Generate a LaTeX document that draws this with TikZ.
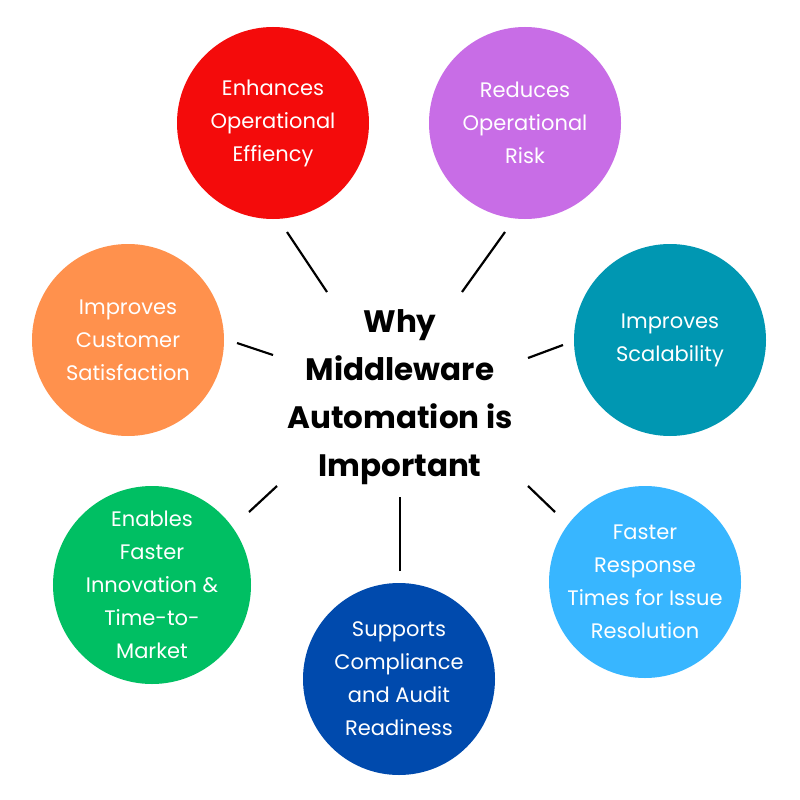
\documentclass[tikz,border=0pt]{standalone}
\usepackage{fontspec}
\setmainfont{Poppins}
\begin{document}
\begin{tikzpicture}[x=1pt,y=-1pt,
  bub/.style={circle,minimum size=192pt,inner sep=0pt,text=white,align=center,font=\fontsize{21}{33}\selectfont},
  con/.style={line width=2.2pt,black}]
\useasboundingbox[fill=white] (0,0) rectangle (800,800);
\definecolor{cRed}{HTML}{F40B0B}
\definecolor{cPur}{HTML}{C86DE6}
\definecolor{cTeal}{HTML}{0097B2}
\definecolor{cLb}{HTML}{38B6FF}
\definecolor{cDb}{HTML}{004AAD}
\definecolor{cGr}{HTML}{00BF63}
\definecolor{cOr}{HTML}{FF914D}
\node[bub,fill=cRed] (a) at (273,123) {Enhances\\Operational\\Effiency};
\node[bub,fill=cPur] (b) at (525,123) {Reduces\\Operational\\Risk};
\node[bub,fill=cTeal] (c) at (670,340) {Improves\\Scalability};
\node[bub,fill=cLb] (d) at (645,582) {Faster\\Response\\Times for Issue\\Resolution};
\node[bub,fill=cDb] (e) at (399,679) {Supports\\Compliance\\and Audit\\Readiness};
\node[bub,fill=cGr] (f) at (152,585) {Enables\\Faster\\Innovation \&\\Time-to-\\Market};
\node[bub,fill=cOr] (g) at (128,340) {Improves\\Customer\\Satisfaction};
\node[align=center,font=\fontsize{31}{48}\selectfont\bfseries] (m) at (400,397) {Why\\Middleware\\Automation is\\Important};
\coordinate (a1) at (287,232); \coordinate (a2) at (327,292);
\coordinate (b1) at (505,232); \coordinate (b2) at (462,292);
\coordinate (g1) at (237,343); \coordinate (g2) at (273,355);
\coordinate (c1) at (563,345); \coordinate (c2) at (528,358);
\coordinate (f1) at (249,512); \coordinate (f2) at (277,486);
\coordinate (e1) at (400,571); \coordinate (e2) at (400,497);
\coordinate (d1) at (555,512); \coordinate (d2) at (528,486);
\foreach \p in {a,b,g,c,f,e,d} \draw[con] (\p1) -- (\p2);
\end{tikzpicture}
\end{document}
